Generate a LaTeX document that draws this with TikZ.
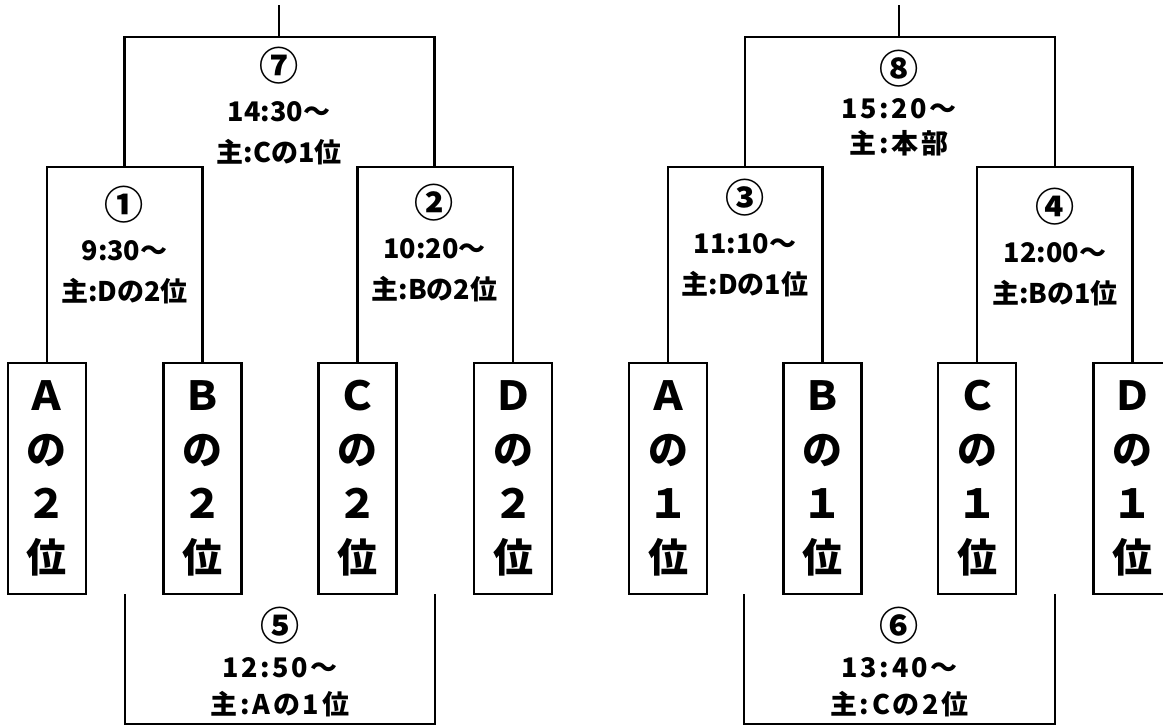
\documentclass[tikz,border=0pt]{standalone}
\usepackage{fontspec}
\newfontfamily\jpfont{Noto Sans CJK JP}
\newfontfamily\jpwide{Noto Sans CJK JP}[LetterSpace=10]
\newcommand\gno[1]{\scalebox{1.45}{#1}}
\begin{document}
\begin{tikzpicture}[x=1pt, y=-1pt, line width=2.6pt,
    team/.style={draw, minimum width=78pt, minimum height=231pt, inner sep=0pt, align=center,
        font=\jpfont\bfseries\fontsize{40}{54}\selectfont},
    match/.style={align=center, font=\jpfont\bfseries\fontsize{27}{41}\selectfont},
    widematch/.style={align=center, font=\jpwide\bfseries\fontsize{27}{37}\selectfont}]
    \useasboundingbox (0,0) rectangle (1163,727);

    % teams of the 2nd places
    \node[team] (a2) at (47,478.5) {Ａ\\の\\２\\位};
    \node[team] (b2) at (202.5,478.5) {Ｂ\\の\\２\\位};
    \node[team] (c2) at (357.5,478.5) {Ｃ\\の\\２\\位};
    \node[team] (d2) at (513,478.5) {Ｄ\\の\\２\\位};
    % teams of the 1st places
    \node[team] (a1) at (668,478.5) {Ａ\\の\\１\\位};
    \node[team] (b1) at (822.5,478.5) {Ｂ\\の\\１\\位};
    \node[team] (c1) at (977,478.5) {Ｃ\\の\\１\\位};
    \node[team] (d1) at (1132.5,478.5) {Ｄ\\の\\１\\位};

    \coordinate (m1) at (124.5,167);
    \coordinate (m2) at (434.5,167);
    \coordinate (m3) at (745,167);
    \coordinate (m4) at (1055,167);
    \coordinate (m7) at (279,37);
    \coordinate (m8) at (899,37);
    \coordinate (t7) at (279,5);
    \coordinate (t8) at (899,5);

    \draw (a2.north) |- (m1) -| (b2.north);
    \draw (c2.north) |- (m2) -| (d2.north);
    \draw (a1.north) |- (m3) -| (b1.north);
    \draw (c1.north) |- (m4) -| (d1.north);
    \draw (m1) |- (m7) -| (m2);
    \draw (m3) |- (m8) -| (m4);
    \draw (m7) -- (t7);
    \draw (m8) -- (t8);

    % brackets below the boxes
    \coordinate (s5a) at (125,594);
    \coordinate (s5b) at (435,594);
    \coordinate (m5) at (280,724);
    \coordinate (s6a) at (744,594);
    \coordinate (s6b) at (1055,594);
    \coordinate (m6) at (899.5,724);
    \draw (s5a) |- (m5) -| (s5b);
    \draw (s6a) |- (m6) -| (s6b);

    % games
    \node[match] (g7) at (279,106) {\gno{⑦}\\14:30～\\主:Cの1位};
    \node[match] (g1) at (124.5,245) {\gno{①}\\9:30～\\主:Dの2位};
    \node[match] (g2) at (434.5,243) {\gno{②}\\10:20～\\主:Bの2位};
    \node[widematch, font=\jpwide\bfseries\fontsize{27}{35}\selectfont] (g8) at (899,103) {\gno{⑧}\\15:20～\\主:本部};
    \node[match] (g3) at (745,238) {\gno{③}\\11:10～\\主:Dの1位};
    \node[match] (g4) at (1055,247) {\gno{④}\\12:00～\\主:Bの1位};
    \node[widematch] (g5) at (280,662) {\gno{⑤}\\12:50～\\主:Aの1位};
    \node[widematch] (g6) at (899.5,662) {\gno{⑥}\\13:40～\\主:Cの2位};
\end{tikzpicture}
\end{document}
